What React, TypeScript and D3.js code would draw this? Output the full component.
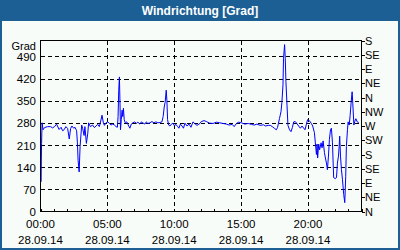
import React from "react";
import * as d3 from "d3";

const title = "Windrichtung [Grad]";
const yUnit = "Grad";
const dateLabel = "28.09.14";

const timesH = [
  0.0, 0.03, 0.08, 0.12, 0.19, 0.3, 0.53, 0.75, 0.9, 1.05, 1.2, 1.39, 1.54, 1.65, 1.76, 1.9, 2.03, 2.15, 2.25, 2.35,
  2.48, 2.58, 2.7, 2.76, 2.81, 2.89, 2.96, 3.08, 3.15, 3.26, 3.32, 3.43, 3.53, 3.6, 3.73, 3.9, 4.03, 4.15, 4.28, 4.4,
  4.52, 4.6, 4.7, 4.78, 4.9, 5.03, 5.15, 5.27, 5.4, 5.53, 5.65, 5.75, 5.8, 5.85, 5.9, 5.95, 5.98, 6.04, 6.1, 6.15,
  6.2, 6.26, 6.34, 6.45, 6.56, 6.68, 6.79, 6.9, 7.05, 7.16, 7.28, 7.43, 7.54, 7.65, 7.8, 7.91, 8.03, 8.18, 8.33, 8.48,
  8.63, 8.78, 8.93, 9.08, 9.17, 9.25, 9.32, 9.4, 9.45, 9.5, 9.58, 9.68, 9.79, 9.9, 10.01, 10.13, 10.24, 10.35, 10.46, 10.58,
  10.69, 10.8, 10.95, 11.1, 11.25, 11.4, 11.55, 11.7, 11.85, 11.92, 12.02, 12.23, 12.4, 12.65, 12.9, 13.15, 13.4, 13.65, 13.9, 14.1,
  14.33, 14.48, 14.65, 14.81, 15.02, 15.28, 15.53, 15.77, 15.98, 16.18, 16.43, 16.67, 16.82, 17.03, 17.18, 17.33, 17.48, 17.63, 17.72, 17.87,
  17.98, 18.05, 18.13, 18.17, 18.25, 18.3, 18.35, 18.43, 18.5, 18.62, 18.73, 18.83, 18.93, 19.05, 19.18, 19.3, 19.43, 19.55, 19.78, 19.88,
  19.97, 20.1, 20.25, 20.35, 20.48, 20.55, 20.63, 20.68, 20.72, 20.8, 20.87, 20.98, 21.05, 21.13, 21.23, 21.3, 21.38, 21.45, 21.53, 21.6,
  21.68, 21.75, 21.83, 21.88, 21.92, 22.03, 22.13, 22.2, 22.28, 22.33, 22.37, 22.43, 22.5, 22.58, 22.67, 22.75, 22.82, 22.87, 22.95, 23.0,
  23.08, 23.15, 23.23, 23.3, 23.35, 23.43, 23.5, 23.58, 23.68, 23.8,
];

const dirValues = [
  280, 94, 215, 280, 258, 265, 268, 268, 264, 268, 276, 259, 266, 255, 258, 268, 262, 229, 262, 270,
  263, 266, 255, 217, 162, 125, 205, 273, 263, 240, 268, 215, 245, 280, 268, 273, 265, 270, 275, 268,
  289, 304, 280, 272, 280, 283, 278, 273, 276, 273, 268, 266, 300, 383, 425, 330, 258, 290, 320, 300,
  326, 290, 280, 283, 273, 263, 276, 280, 283, 278, 282, 276, 283, 280, 276, 283, 278, 280, 284, 280,
  283, 280, 281, 283, 300, 330, 345, 383, 350, 290, 273, 270, 276, 279, 271, 275, 269, 263, 276, 270,
  263, 279, 270, 276, 266, 283, 277, 272, 276, 278, 284, 287, 284, 279, 278, 282, 280, 278, 276, 273,
  275, 268, 278, 282, 280, 276, 278, 275, 273, 276, 272, 274, 270, 272, 272, 268, 263, 258, 265, 294,
  315, 345, 400, 484, 527, 484, 410, 336, 272, 258, 252, 265, 283, 284, 277, 270, 263, 270, 258, 276,
  290, 287, 278, 270, 249, 217, 180, 213, 169, 213, 195, 217, 201, 223, 186, 169, 153, 132, 175, 227,
  258, 263, 217, 153, 107, 104, 107, 153, 175, 206, 238, 175, 132, 100, 54, 28, 110, 205, 258, 283,
  273, 303, 347, 378, 340, 273, 285, 293, 283, 280,
];

const leftTicks = [0, 70, 140, 210, 280, 350, 420, 490];
const rightTickLabels = ["N", "NE", "E", "SE", "S", "SW", "W", "NW", "N", "NE", "E", "SE", "S"];
const rightTickValues = [0, 45, 90, 135, 180, 225, 270, 315, 360, 405, 450, 495, 540];
const xMajorHours = [0, 5, 10, 15, 20];
const xMajorLabels = ["00:00", "05:00", "10:00", "15:00", "20:00"];
const xMinorHours = d3.range(0, 25, 1);

const W = 400;
const H = 250;
const FONT = "'Liberation Sans', Arial, sans-serif";

export default function App() {
  const x = d3.scaleLinear().domain([0, 24]).range([40.5, 361.5]);
  const y = d3.scaleLinear().domain([0, 540]).range([211.5, 40.5]);
  const data = timesH.map((t, i) => [t, dirValues[i]] as [number, number]);
  const line = d3
    .line<[number, number]>()
    .x((d) => x(d[0]))
    .y((d) => y(d[1]));

  const x0 = x(0), x1 = x(24), yb = y(0), yt = y(540);

  return (
    <div style={{ position: "fixed", left: 0, top: 0, width: W, height: H }}>
      <svg width={W} height={H} style={{ display: "block" }}>
        <rect x={0} y={0} width={W} height={H} fill="#1c5f94" />
        <rect x={2} y={21} width={W - 4} height={H - 23} fill="#f8fcf8" />
        <text x={200} y={14.5} textAnchor="middle" fill="#ffffff" fontFamily={FONT} fontWeight="bold" fontSize={12}>
          {title}
        </text>

        {leftTicks.filter((v) => v > 0).map((v) => (
          <line key={"hg" + v} x1={x0} x2={x1} y1={Math.round(y(v)) + 0.5} y2={Math.round(y(v)) + 0.5}
            stroke="#000" strokeWidth={1} strokeDasharray="4,3" shapeRendering="crispEdges" />
        ))}
        {xMajorHours.filter((h) => h > 0).map((h) => (
          <line key={"vg" + h} x1={Math.round(x(h)) + 0.5} x2={Math.round(x(h)) + 0.5} y1={yt} y2={yb}
            stroke="#000" strokeWidth={1} strokeDasharray="4,3" shapeRendering="crispEdges" />
        ))}
        {xMinorHours.map((h) => (
          <line key={"mt" + h} x1={Math.round(x(h)) + 0.5} x2={Math.round(x(h)) + 0.5} y1={yb} y2={yb - 3}
            stroke="#000" strokeWidth={1} shapeRendering="crispEdges" />
        ))}
        {rightTickValues.map((v, i) => (
          <line key={"rt" + i} x1={x1} x2={x1 + 3} y1={Math.round(y(v)) + 0.5} y2={Math.round(y(v)) + 0.5}
            stroke="#000" strokeWidth={1} shapeRendering="crispEdges" />
        ))}

        <path d={line(data) || ""} fill="none" stroke="#0000ff" strokeWidth={1} strokeLinejoin="miter" />

        <rect x={x0} y={yt} width={x1 - x0} height={yb - yt} fill="none" stroke="#000" strokeWidth={1} shapeRendering="crispEdges" />

        <text x={36} y={50} textAnchor="end" fontFamily={FONT} fontSize={11} fill="#000">{yUnit}</text>
        {leftTicks.map((v) => (
          <text key={"ll" + v} x={36} y={y(v) + 4.5} textAnchor="end" fontFamily={FONT} fontSize={11.5} fill="#000">
            {v}
          </text>
        ))}
        {rightTickValues.map((v, i) => (
          <text key={"rl" + i} x={365} y={y(v) + 4} textAnchor="start" fontFamily={FONT} fontSize={11} fill="#000">
            {rightTickLabels[i]}
          </text>
        ))}
        {xMajorHours.map((h, i) => (
          <g key={"xl" + h}>
            <text x={x(h)} y={228} textAnchor="middle" fontFamily={FONT} fontSize={11.5} fill="#000">{xMajorLabels[i]}</text>
            <text x={x(h)} y={244} textAnchor="middle" fontFamily={FONT} fontSize={11.5} fill="#000">{dateLabel}</text>
          </g>
        ))}
      </svg>
    </div>
  );
}
